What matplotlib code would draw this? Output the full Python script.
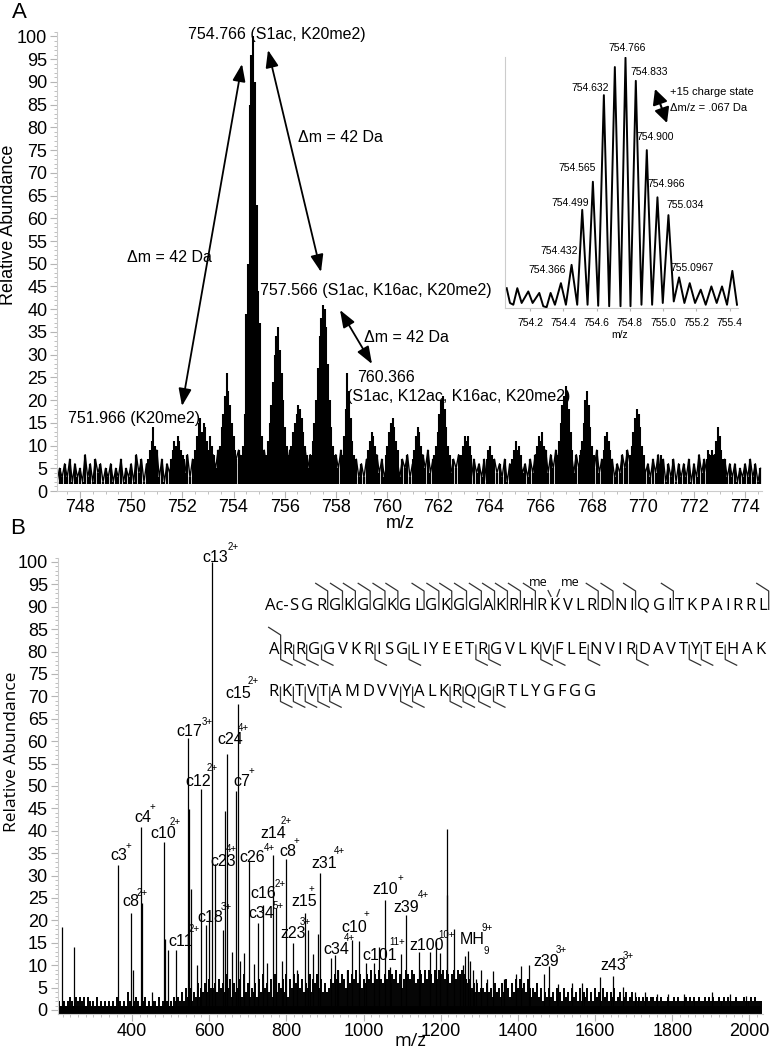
import matplotlib
matplotlib.use("Agg")
import matplotlib.pyplot as plt
from matplotlib.ticker import MultipleLocator
from matplotlib.textpath import TextToPath
from matplotlib.font_manager import FontProperties

W, H = 783, 1050
plt.rcParams['font.family'] = ['Liberation Sans', 'DejaVu Sans']

# ---------------- panel A: survey scan ----------------
a_noise_start = 747.1
a_noise_step = 0.1
a_noise_digits = (
    "25363726352836274625"
    "36253725362847263829"
    "37264738364837495847"
    "48596958697969586979"
    "69586957485968596958"
    "69597958685947485736"
    "37463847364847375836"
    "47385947384736475836"
    "26374637263746372637"
    "37463748375948596958"
    "69485958375947384736"
    "48596948374637483726"
    "37263637263847485837"
    "4736362536373625"
)
a_noise = [int(c) for c in a_noise_digits]
a_floor = 1.5

iso_step = 0.0667  # +15 charge state spacing
a_clusters = [
    (750.67, [7, 9, 11, 14, 10, 8]),
    (751.55, [7, 9, 11, 10, 12, 11, 9, 8, 7]),
    (752.50, [9, 12, 15, 16, 13, 15, 14, 11, 9, 12, 10, 8]),
    (753.40, [8, 10, 14, 17, 21, 26, 22, 19, 15, 12, 9]),
    (755.28, [8, 11, 15, 19, 24, 30, 34, 36, 31, 26, 20, 14, 10, 8]),
    (756.20, [8, 10, 13, 15, 17, 19, 18, 16, 13, 10, 8]),
    (757.03, [8, 11, 15, 20, 27, 34, 38, 41, 40, 36, 28, 20, 14, 10, 8]),
    (758.25, [8, 12, 18, 26, 22, 16, 11, 8]),
    (759.20, [7, 9, 11, 13, 12, 10, 8]),
    (759.95, [8, 10, 13, 15, 16, 14, 11, 9]),
    (761.00, [7, 9, 12, 14, 13, 10, 8]),
    (761.85, [8, 10, 13, 17, 20, 21, 18, 14, 10, 8]),
    (762.90, [8, 10, 12, 11, 12, 10, 8]),
    (763.90, [7, 9, 10, 8]),
    (764.90, [7, 9, 11, 9, 10, 8]),
    (765.80, [7, 10, 12, 11, 13, 10, 8]),
    (766.65, [8, 11, 15, 19, 21, 23, 22, 18, 13, 9]),
    (767.55, [8, 11, 15, 20, 22, 19, 14, 10, 8]),
    (768.40, [7, 9, 12, 13, 11, 9, 7]),
    (769.50, [8, 10, 13, 16, 18, 17, 14, 10, 8]),
    (770.65, [6, 8, 7]),
    (772.50, [7, 9, 8, 9]),
    (772.80, [8, 11, 14, 12, 9, 7]),
]
a_main_mz = [754.232, 754.299, 754.366, 754.432, 754.499, 754.565, 754.632,
             754.699, 754.766, 754.833, 754.900, 754.966, 755.034, 755.097, 755.164]
a_main_int = [6, 8, 10, 17, 39, 50, 85, 96, 100, 90, 63, 44, 37, 12, 9]

# inset: profile of the 754.766 envelope
inset_mz = [754.060, 754.080, 754.100, 754.124, 754.150, 754.190, 754.216, 754.256,
            754.280, 754.300, 754.324, 754.350, 754.386, 754.416, 754.450, 754.484,
            754.514, 754.546, 754.578, 754.610, 754.644, 754.676, 754.710, 754.744,
            754.774, 754.804, 754.836, 754.870, 754.902, 754.934, 754.966, 754.998,
            755.032, 755.064, 755.096, 755.128, 755.160, 755.192, 755.226, 755.256,
            755.290, 755.322, 755.354, 755.384, 755.416, 755.444]
inset_int = [7.9, 2.0, 1.3, 7.9, 2.0, 6.6, 2.0, 6.0,
             0.7, 0.3, 6.0, 1.3, 9.9, 1.3, 17.2, 1.3,
             39.1, 1.3, 50.3, 0.9, 84.8, 0.7, 96.0, 0.7,
             99.7, 0.7, 90.5, 1.3, 62.9, 1.3, 44.1, 2.0,
             37.0, 2.6, 12.2, 2.0, 9.9, 2.0, 7.3, 1.3,
             8.6, 2.0, 8.6, 1.3, 14.8, 1.3]
inset_labels = ["754.766", "754.833", "754.632", "754.900", "754.565", "754.966",
                "754.499", "755.034", "754.432", "754.366", "755.0967"]

# ---------------- panel B: ETD MS/MS ----------------
b_peaks = [
    (218.6, 18.6), (249.7, 14.1), (363.0, 32.3), (397.4, 21.6), (403.0, 9.0),
    (423.3, 40.9), (426.7, 23.8), (451.0, 4.0), (483.7, 37.4), (486.0, 15.8),
    (492.5, 13.4), (514.0, 13.4), (544.3, 60.8), (547.0, 44.8), (552.0, 27.0),
    (567.5, 10.0), (578.8, 49.4), (591.7, 19.0), (600.0, 22.0), (608.0, 100.0),
    (615.0, 32.5), (636.5, 17.9), (641.0, 44.4), (646.0, 57.1), (658.0, 13.0),
    (669.4, 48.9), (673.8, 68.3), (680.0, 11.0), (690.0, 12.8), (703.0, 33.2),
    (716.0, 10.3), (727.0, 19.4), (738.6, 23.5), (749.0, 10.5), (764.5, 34.7),
    (773.0, 22.7), (788.0, 11.0), (798.0, 33.6), (816.0, 14.9), (826.7, 9.0),
    (848.0, 21.6), (856.7, 17.9), (869.7, 12.4), (883.0, 17.0), (887.0, 30.6),
    (914.8, 11.5), (926.0, 12.2), (934.5, 9.0), (956.0, 9.0), (970.7, 15.6),
    (988.0, 15.3), (1005.4, 10.5), (1027.0, 10.5), (1040.0, 14.0), (1055.5, 24.6),
    (1068.4, 9.7), (1097.0, 12.4), (1110.6, 21.2), (1144.0, 13.0), (1172.0, 13.0),
    (1186.8, 15.3), (1198.0, 12.8), (1215.0, 40.5), (1216.8, 25.7), (1234.0, 18.1),
    (1250.0, 8.0), (1258.0, 10.0), (1264.0, 12.0), (1270.0, 13.2), (1276.0, 11.0),
    (1283.0, 9.0), (1291.0, 7.0), (1304.0, 8.9), (1320.5, 7.0), (1336.0, 8.7),
    (1363.7, 7.0), (1394.0, 8.1), (1407.0, 9.8), (1429.0, 10.0), (1467.0, 8.0),
    (1480.0, 9.8), (1503.6, 5.8), (1539.0, 6.0), (1566.6, 6.0), (1612.4, 7.3),
    (1647.0, 7.5), (1671.0, 5.2), (1703.0, 4.0), (1729.0, 4.0), (1760.0, 3.5),
    (1790.0, 3.5), (1830.0, 3.5), (1903.9, 4.0), (1950.0, 3.5), (1990.7, 3.2),
]
b_mz = [p[0] for p in b_peaks]
b_int = [p[1] for p in b_peaks]

b_grass_start = 210
b_grass_step = 5
b_grass_digits = (
    "21221232132323132121"
    "31212121213121214212"
    "32142312122131232121"
    "32324253524363546475"
    "56475648573645738463"
    "54637485647384657483"
    "75868574658476857464"
    "57687968759687968576"
    "87968797687968796857"
    "98798679869798697989"
    "79868979898767564645"
    "54645364536475364757"
    "56475354635243534253"
    "42534253425243524253"
    "42534243523423423423"
    "23232323323232223223"
    "23222323232232232323"
    "22322323222322232223"
    "23222"
)
b_grass = [int(c) for c in b_grass_digits]
b_floor = 1.0

# fragment labels: text, charge, label pos, charge pos (figure pixels)
b_labels = [
    ("c13", "2+", 202, 558, 228, 547), ("c15", "2+", 225, 693, 248, 681),
    ("c17", "3+", 176, 731, 202, 722), ("c24", "4+", 217, 739, 238, 728),
    ("c12", "2+", 185, 781, 207, 768), ("c7", "+", 233, 781, 249, 771),
    ("c4", "+", 134, 817, 150, 807), ("c10", "2+", 150, 834, 170, 822),
    ("c3", "+", 110, 856, 126, 846), ("c23", "4+", 210, 861, 226, 849),
    ("c26", "4+", 239, 857, 264, 848), ("z14", "2+", 260, 834, 281, 821),
    ("c8", "+", 279, 852, 294, 841), ("z31", "4+", 311, 863, 334, 851),
    ("c8", "2+", 122, 902, 137, 893), ("c16", "2+", 250, 894, 275, 884),
    ("z15", "+", 291, 902, 309, 889), ("z10", "+", 372, 889, 398, 878),
    ("z39", "4+", 393, 907, 418, 895), ("c18", "3+", 197, 917, 221, 907),
    ("c34", "5+", 248, 914, 273, 906), ("c10", "+", 341, 927, 364, 914),
    ("z23", "3+", 280, 934, 300, 922), ("c11", "2+", 168, 941, 189, 929),
    ("c34", "4+", 323, 949, 344, 938), ("c101", "11+", 362, 955, 389, 942),
    ("z100", "10+", 409, 946, 438, 935), ("z39", "3+", 533, 961, 556, 950),
    ("z43", "3+", 600, 966, 623, 956),
]

# H4 sequence with observed cleavages (c above, z below), 1-based in row
seq_rows = ["SGRGKGGKGLGKGGAKRHRKVLRDNIQGITKPAIRRL",
            "ARRGGVKRISGLIYEETRGVLKVFLENVIRDAVTYTEHAK",
            "RKTVTAMDVVYALKRQGRTLYGFGG"]
c_cuts = [[3, 4, 5, 6, 7, 8, 10, 11, 12, 13, 14, 15, 16, 17, 18, 23, 24, 26, 29, 37],
          [1], []]
z_cuts = [[], [1, 2, 3, 4, 8, 11, 17, 18, 22, 23, 26, 30, 34, 35, 37],
          [1, 2, 3, 4, 5, 10, 11, 14, 15, 16, 17]]

# ---------------- figure ----------------
fig = plt.figure(figsize=(W / 100, H / 100), dpi=100)


def box(l, t, r, b):
    return [l / W, 1 - b / H, (r - l) / W, (b - t) / H]


def style(ax, size=13):
    for s in ('top', 'right'):
        ax.spines[s].set_visible(False)
    for s in ('left', 'bottom'):
        ax.spines[s].set_color('#cccccc')
        ax.spines[s].set_linewidth(0.8)
    ax.tick_params(which='both', colors='#b5b5b5', labelcolor='black', direction='out')
    ax.tick_params(which='major', length=5, width=0.8, labelsize=size, pad=2)
    ax.tick_params(which='minor', length=2.5, width=0.6)
    ax.patch.set_alpha(0)


# panel A
axA = fig.add_axes(box(57, 491 - 101 * 4.545, 762, 491))
xa = [a_noise_start + i * a_noise_step for i in range(len(a_noise))]
axA.vlines(xa, a_floor, a_noise, color='black', lw=1.6)
axA.plot(xa, a_noise, color='black', lw=1.0)
for start, hts in a_clusters:
    xs = [start + i * iso_step for i in range(len(hts))]
    axA.vlines(xs, a_floor, hts, color='black', lw=1.5)
axA.vlines(a_main_mz, a_floor, a_main_int, color='black', lw=1.5)
axA.set_xlim(747.1, 774.66)
axA.set_ylim(0, 101)
axA.set_xticks(range(748, 775, 2))
axA.set_yticks(range(0, 101, 5))
axA.xaxis.set_minor_locator(MultipleLocator(0.5))
axA.yaxis.set_minor_locator(MultipleLocator(1))
style(axA)
axA.tick_params(axis='x', which='major', pad=1)

# inset
axI = fig.add_axes(box(505, 57, 738, 308))
axI.plot(inset_mz, inset_int, color='black', lw=1.4)
axI.set_xlim(754.05, 755.45)
axI.set_ylim(0, 100)
axI.set_xticks([754.2, 754.4, 754.6, 754.8, 755.0, 755.2, 755.4])
axI.set_xticklabels(['754.2', '754.4', '754.6', '754.8', '755.0', '755.2', '755.4'])
axI.set_yticks([])
style(axI, size=7.5)
axI.tick_params(which='major', length=2, pad=5)

# panel B
axB = fig.add_axes(box(57.5, 1010 - 101 * 4.48, 763, 1010 + 0.8 * 4.48))
xb = [b_grass_start + i * b_grass_step for i in range(len(b_grass))]
axB.fill_between([xb[0] - 10, xb[-1]], -0.8, b_floor, color='black', lw=0)
axB.vlines(xb, -0.8, b_grass, color='black', lw=1.4)
axB.vlines(b_mz, -0.8, b_int, color='black', lw=0.9)
axB.set_xlim(207, 2035)
axB.set_ylim(-0.8, 101)
axB.set_xticks(range(400, 2001, 200))
axB.set_yticks(range(0, 101, 5))
axB.xaxis.set_minor_locator(MultipleLocator(20))
axB.yaxis.set_minor_locator(MultipleLocator(1))
style(axB)

# overlay in pixel space for labels and annotations
ov = fig.add_axes([0, 0, 1, 1])
ov.set_xlim(0, W)
ov.set_ylim(H, 0)
ov.axis('off')
ov.patch.set_alpha(0)

ov.text(19, 13, "A", fontsize=16, ha='center', va='center')
ov.text(18, 528, "B", fontsize=16, ha='center', va='center')
ov.text(9, 225, "Relative Abundance", fontsize=13, rotation=90, ha='center', va='center')
ov.text(400, 523, "m/z", fontsize=13, ha='center', va='center')
ov.text(12, 752, "Relative Abundance", fontsize=12.5, rotation=90, ha='center',
        va='center', family=['Open Sans', 'DejaVu Sans'])
ov.text(410, 1041, "m/z", fontsize=13, ha='center', va='center',
        family=['Open Sans', 'DejaVu Sans'])
ov.text(620, 335, "m/z", fontsize=7.5, ha='center', va='center')

# panel A annotations
fs = 11.5
for txt, x, y in [("754.766 (S1ac, K20me2)", 188, 34),
                  ("\u0394m = 42 Da", 298, 138),
                  ("\u0394m = 42 Da", 127, 257),
                  ("757.566 (S1ac, K16ac, K20me2)", 260, 291),
                  ("\u0394m = 42 Da", 364, 337),
                  ("760.366", 357, 377),
                  ("(S1ac, K12ac, K16ac, K20me2)", 347, 397),
                  ("751.966 (K20me2)", 68, 418)]:
    ov.text(x, y, txt, fontsize=fs, ha='left', va='center')

arrow = dict(arrowstyle='<|-|>,head_length=0.75,head_width=0.28', mutation_scale=14,
             lw=1.3, color='black', shrinkA=0, shrinkB=0)
for (x0, y0), (x1, y1) in [((182, 406), (242, 64)),
                           ((268, 50), (321, 272)),
                           ((340, 310), (372, 364))]:
    ov.annotate("", xy=(x1, y1), xytext=(x0, y0), arrowprops=arrow)
ov.annotate("", xy=(667, 123), xytext=(655, 89),
            arrowprops=dict(arrowstyle='<|-|>,head_length=0.7,head_width=0.35',
                            mutation_scale=13, lw=1.5, color='black',
                            shrinkA=0, shrinkB=0))

# inset annotations
inset_pos = [(627, 48), (649, 72), (590, 88), (655, 137), (577, 168), (666, 184),
             (570, 203), (685, 205), (559, 251), (547, 270), (692, 268)]
for txt, (x, y) in zip(inset_labels, inset_pos):
    ov.text(x, y, txt, fontsize=7.5, ha='center', va='center')
ov.text(670, 92, "+15 charge state", fontsize=8, ha='left', va='center')
ov.text(670, 108, "\u0394m/z = .067 Da", fontsize=8, ha='left', va='center')

# panel B fragment labels
for txt, sup, x, y, sx, sy in b_labels:
    ov.text(x, y, txt, fontsize=11.5, ha='left', va='center')
    ov.text(sx, sy, sup, fontsize=7, ha='left', va='center')
ov.text(460, 939, "MH", fontsize=11.5, ha='left', va='center')
ov.text(484, 951, "9", fontsize=7, ha='left', va='center')
ov.text(482, 928, "9+", fontsize=7, ha='left', va='center')

# sequence map
seq_font = FontProperties(family='Open Sans', size=12)
ttp = TextToPath()
row_x0 = [294, 274, 274]
row_x1 = [763, 760, 590]
row_yc = [603.5, 647.5, 689.5]
mark_kw = dict(color='#333333', lw=0.9, solid_capstyle='butt')
for r, row in enumerate(seq_rows):
    w = [ttp.get_text_width_height_descent(ch, seq_font, ismath=False)[0] * 100 / 72
         for ch in row]
    n = len(row)
    inner = sum((w[i] + w[i + 1]) / 2 for i in range(n - 1))
    gap = (row_x1[r] - row_x0[r] - inner) / (n - 1)
    xs = [row_x0[r]]
    for i in range(1, n):
        xs.append(xs[-1] + (w[i - 1] + w[i]) / 2 + gap)
    yc = row_yc[r]
    for ch, x in zip(row, xs):
        ov.text(x, yc + 6.2, ch, fontproperties=seq_font, ha='center', va='baseline')
    if r == 0:
        ov.text(xs[0] - w[0] / 2 - 0.5, yc + 6.2, "Ac-", fontproperties=seq_font,
                ha='right', va='baseline')
        kx = xs[19]
        ov.text(kx - 17, 582, "me", fontsize=9, ha='center', va='center',
                family=['Open Sans', 'DejaVu Sans'])
        ov.text(kx + 15, 582, "me", fontsize=9, ha='center', va='center',
                family=['Open Sans', 'DejaVu Sans'])
        ov.plot([kx - 7, kx - 3.5], [590, 597], **mark_kw)
        ov.plot([kx + 5, kx + 2], [589, 597], **mark_kw)
    for k in c_cuts[r]:
        gx = xs[k - 1] + w[k - 1] / 2 + gap / 2
        ov.plot([gx - 12.5, gx, gx], [yc - 20.5, yc - 12.5, yc + 6.5], **mark_kw)
    for k in z_cuts[r]:
        gx = xs[k - 1] + w[k - 1] / 2 + gap / 2
        ov.plot([gx, gx, gx + 12], [yc - 3, yc + 12, yc + 18], **mark_kw)

fig.savefig("out.png", dpi=100)
